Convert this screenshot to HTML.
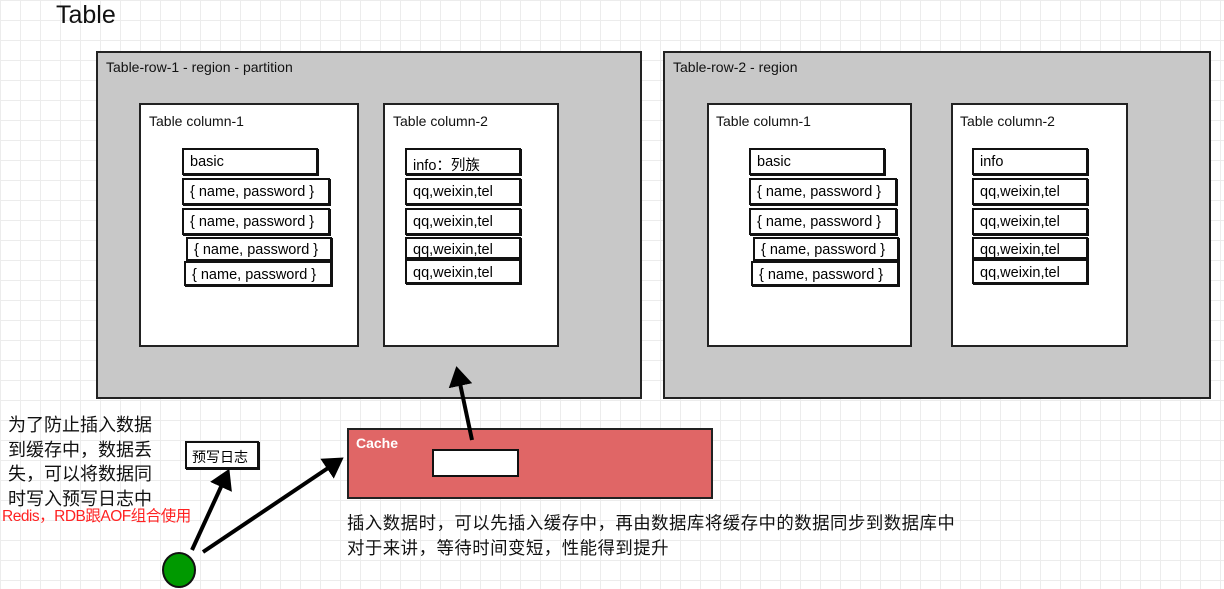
<!DOCTYPE html>
<html><head><meta charset="utf-8"><style>
body{margin:0;width:1224px;height:589px;overflow:hidden;position:relative;font-family:"Liberation Sans","Noto Sans CJK SC",sans-serif;
background-color:#fff;background-image:linear-gradient(#ececec 1px,transparent 1px),linear-gradient(90deg,#ececec 1px,transparent 1px);background-size:20px 20px;}
.a{position:absolute;box-sizing:border-box}
.row{background:#c8c8c8;border:2px solid #222}
.col{background:#fff;border:2px solid #222}
.it{background:#fff;border:2px solid #111;font-size:14.5px;padding:4px 0 0 6px;box-shadow:1px 1px 0 #111;white-space:nowrap;overflow:hidden}
.t{position:absolute;font-size:14px;color:#111;white-space:nowrap}
</style></head><body>
<div class="t" style="left:56px;top:1px;font-size:25px">Table</div>

<div class="a row" style="left:96px;top:51px;width:546px;height:348px"></div>
<div class="t" style="left:106px;top:59px">Table-row-1 - region - partition</div>
<div class="a col" style="left:139px;top:103px;width:220px;height:244px"></div>
<div class="t" style="left:149px;top:113px">Table column-1</div>
<div class="a col" style="left:383px;top:103px;width:176px;height:244px"></div>
<div class="t" style="left:393px;top:113px">Table column-2</div>
<div class="a it" style="left:182px;top:148px;width:136px;height:27px">basic</div>
<div class="a it" style="left:182px;top:178px;width:148px;height:27px">{ name, password }</div>
<div class="a it" style="left:182px;top:208px;width:148px;height:27px">{ name, password }</div>
<div class="a it" style="left:186px;top:237px;width:146px;height:24px;padding-top:3px">{ name, password }</div>
<div class="a it" style="left:184px;top:261px;width:148px;height:25px">{ name, password }</div>
<div class="a it" style="left:405px;top:148px;width:116px;height:27px">info：列族</div>
<div class="a it" style="left:405px;top:178px;width:116px;height:27px">qq,weixin,tel</div>
<div class="a it" style="left:405px;top:208px;width:116px;height:27px">qq,weixin,tel</div>
<div class="a it" style="left:405px;top:237px;width:116px;height:22px;padding-top:3px">qq,weixin,tel</div>
<div class="a it" style="left:405px;top:259px;width:116px;height:25px">qq,weixin,tel</div>

<div class="a row" style="left:663px;top:51px;width:548px;height:348px"></div>
<div class="t" style="left:673px;top:59px">Table-row-2 - region</div>
<div class="a col" style="left:707px;top:103px;width:205px;height:244px"></div>
<div class="t" style="left:716px;top:113px">Table column-1</div>
<div class="a col" style="left:951px;top:103px;width:177px;height:244px"></div>
<div class="t" style="left:960px;top:113px">Table column-2</div>
<div class="a it" style="left:749px;top:148px;width:136px;height:27px">basic</div>
<div class="a it" style="left:749px;top:178px;width:148px;height:27px">{ name, password }</div>
<div class="a it" style="left:749px;top:208px;width:148px;height:27px">{ name, password }</div>
<div class="a it" style="left:753px;top:237px;width:146px;height:24px;padding-top:3px">{ name, password }</div>
<div class="a it" style="left:751px;top:261px;width:148px;height:25px">{ name, password }</div>
<div class="a it" style="left:972px;top:148px;width:116px;height:27px">info</div>
<div class="a it" style="left:972px;top:178px;width:116px;height:27px">qq,weixin,tel</div>
<div class="a it" style="left:972px;top:208px;width:116px;height:27px">qq,weixin,tel</div>
<div class="a it" style="left:972px;top:237px;width:116px;height:22px;padding-top:3px">qq,weixin,tel</div>
<div class="a it" style="left:972px;top:259px;width:116px;height:25px">qq,weixin,tel</div>

<div class="a" style="left:347px;top:428px;width:366px;height:71px;background:#e06666;border:2px solid #222"></div>
<div class="t" style="left:356px;top:435px;color:#fff;font-weight:bold;font-size:14px">Cache</div>
<div class="a" style="left:432px;top:449px;width:87px;height:28px;background:#fff;border:2px solid #111"></div>

<div class="a it" style="left:185px;top:441px;width:74px;height:28px;font-size:14px;padding:4px 0 0 5px">预写日志</div>

<div class="t" style="left:8px;top:413px;font-size:18px;line-height:24.5px">为了防止插入数据<br>到缓存中，数据丢<br>失，可以将数据同<br>时写入预写日志中</div>
<div class="t" style="left:2px;top:504px;font-size:15.5px;color:#f22;letter-spacing:-0.5px">Redis，RDB跟AOF组合使用</div>
<div class="t" style="left:347px;top:511px;font-size:17.4px;line-height:24.5px;letter-spacing:0.5px">插入数据时，可以先插入缓存中，再由数据库将缓存中的数据同步到数据库中<br>对于来讲，等待时间变短，性能得到提升</div>

<svg class="a" style="left:0;top:0" width="1224" height="589">
<defs><marker id="m" markerWidth="6" markerHeight="6" refX="3" refY="3" orient="auto" markerUnits="strokeWidth"><path d="M0,0 L5,3 L0,6 z" fill="#000"/></marker></defs>
<g stroke="#000" stroke-width="4" fill="none">
<line x1="472" y1="440" x2="458" y2="374" marker-end="url(#m)"/>
<line x1="192" y1="550" x2="226" y2="476" marker-end="url(#m)"/>
<line x1="203" y1="552" x2="337" y2="462" marker-end="url(#m)"/>
</g>
<ellipse cx="179" cy="570" rx="16" ry="17" fill="#090" stroke="#111" stroke-width="2"/>
</svg>
</body></html>
